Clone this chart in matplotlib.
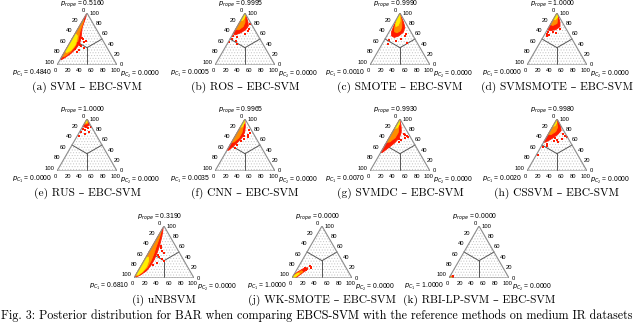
"""Ternary posterior plots (BAR, medium IR) for EBC-SVM vs reference methods."""
import numpy as np
import matplotlib.pyplot as plt
from matplotlib.patches import Polygon

plt.rcParams['hatch.linewidth'] = 0.4

# ---- data: probabilities printed at the corners ----
captions = ["(a) SVM – EBC-SVM", "(b) ROS – EBC-SVM", "(c) SMOTE – EBC-SVM",
            "(d) SVMSMOTE – EBC-SVM", "(e) RUS – EBC-SVM", "(f) CNN – EBC-SVM",
            "(g) SVMDC – EBC-SVM", "(h) CSSVM – EBC-SVM", "(i) uNBSVM",
            "(j) WK-SMOTE – EBC-SVM", "(k) RBI-LP-SVM – EBC-SVM"]
p_rope = [0.5160, 0.9995, 0.9990, 1.0000, 1.0000, 0.9965, 0.9930, 0.9980, 0.3190, 0.0000, 0.0000]
p_c1 = [0.4840, 0.0005, 0.0010, 0.0000, 0.0000, 0.0035, 0.0070, 0.0020, 0.6810, 1.0000, 1.0000]
p_c2 = [0.0000] * 11
tick_vals = [0, 20, 40, 60, 80, 100]

# ---- posterior sample clouds: (p_rope %, p_C2 %) ----
svm_red = [(98, 0), (12, 0), (10, 2), (14, 6), (22, 12), (32, 16), (42, 17), (52, 14), (62, 10), (72, 6), (82, 4), (92, 2)]
svm_orange = [(88, 0), (15, 0), (17, 5), (25, 10), (35, 12), (45, 12), (55, 9), (65, 6), (75, 4), (85, 2)]
svm_yellow = [(60, 1), (26, 1), (24, 4), (28, 9), (38, 11), (48, 9), (56, 6)]
svm_dots = [(50, 18), (45, 22), (39, 19), (33, 28), (47, 24), (25, 20), (42, 14), (30, 15), (52, 16), (36, 22), (28, 22)]

ros_red = [(100, 0), (60, 0), (58, 5), (62, 12), (68, 17), (75, 18), (82, 14), (90, 8), (96, 3)]
ros_orange = [(95, 0), (68, 0), (68, 6), (74, 10), (82, 9), (90, 5)]
ros_yellow = [(100, 0), (86, 0), (86, 3), (92, 4), (97, 2)]
ros_dots = [(56, 2), (50, 3), (47, 12), (60, 20), (65, 22), (70, 21), (78, 20), (54, 10), (45, 1), (40, 17)]

smote_red = [(100, 0), (88, 1), (76, 2), (64, 4), (56, 8), (53, 14), (56, 20), (63, 24), (72, 22), (82, 15), (90, 8), (96, 3)]
smote_orange = [(98, 0), (85, 2), (72, 5), (64, 9), (62, 14), (66, 18), (74, 16), (84, 11), (92, 5)]
smote_yellow = [(100, 0), (90, 1), (80, 3), (74, 6), (76, 9), (84, 8), (92, 4)]
smote_dots = [(40, 10), (42, 40), (46, 20), (50, 26), (48, 8), (55, 30), (60, 30)]

svmsmote_red = [(100, 0), (68, 0), (66, 6), (68, 14), (74, 18), (82, 14), (90, 8), (96, 3)]
svmsmote_orange = [(98, 0), (78, 0), (76, 5), (80, 10), (88, 7), (94, 3)]
svmsmote_yellow = [(100, 0), (88, 0), (87, 4), (92, 5), (97, 2)]
svmsmote_dots = [(60, 4), (55, 6), (58, 8), (63, 3), (64, 12), (62, 18), (70, 20)]

rus_red = [(100, 0), (86, 0), (84, 5), (88, 10), (94, 6)]
rus_orange = [(100, 0), (90, 1), (91, 5), (96, 4)]
rus_yellow = [(100, 0), (93, 0), (93, 3), (97, 2)]
rus_dots = [(84, 6), (80, 4), (78, 8), (76, 15), (84, 15), (68, 3), (75, 2), (72, 10), (82, 11)]

cnn_red = [(100, 0), (40, 0), (40, 3), (46, 6), (55, 10), (65, 13), (75, 12), (85, 8), (94, 3)]
cnn_orange = [(98, 0), (55, 0), (56, 4), (64, 8), (74, 8), (84, 5), (92, 2)]
cnn_yellow = [(100, 0), (84, 0), (85, 3), (92, 3), (97, 1)]
cnn_dots = [(62, 18), (66, 22), (70, 20), (73, 22), (58, 15), (50, 12), (45, 10), (68, 14), (78, 18)]

svmdc_red = [(100, 0), (35, 0), (36, 3), (44, 8), (54, 14), (64, 17), (74, 15), (84, 10), (93, 4)]
svmdc_orange = [(98, 0), (55, 0), (56, 5), (64, 10), (74, 10), (84, 6), (92, 2)]
svmdc_yellow = [(100, 0), (82, 0), (83, 4), (90, 4), (96, 1)]
svmdc_dots = [(60, 22), (64, 26), (66, 30), (70, 24), (56, 20), (62, 18), (68, 28), (72, 20)]

cssvm_red = [(100, 0), (55, 0), (56, 4), (62, 10), (70, 16), (78, 18), (86, 13), (93, 7), (98, 2)]
cssvm_orange = [(98, 0), (70, 0), (70, 5), (76, 10), (84, 9), (92, 4)]
cssvm_yellow = [(100, 0), (86, 0), (87, 3), (93, 3), (97, 1)]
cssvm_dots = [(55, 24), (52, 7), (68, 30), (30, 3), (60, 20), (62, 28), (48, 10), (64, 14),
              (58, 16), (72, 24), (46, 4), (66, 34)]

unb_red = [(97, 0), (3, 0), (2, 3), (6, 8), (14, 14), (24, 16), (36, 16), (50, 14), (64, 11), (78, 7), (90, 3)]
unb_orange = [(90, 0), (4, 0), (4, 4), (10, 8), (20, 12), (32, 12), (46, 10), (60, 7), (76, 4), (88, 1)]
unb_yellow = [(40, 0), (6, 0), (6, 4), (12, 8), (22, 10), (32, 8), (40, 4)]
unb_dots = [(52, 21), (32, 34), (40, 22), (45, 18), (28, 24), (58, 16), (36, 28), (25, 19), (48, 26), (62, 14)]

wk_red = [(0, 0), (0, 6), (6, 10), (12, 14), (17, 18), (20, 16), (18, 10), (12, 4), (6, 0)]
wk_orange = [(0, 0), (0, 4), (6, 8), (12, 12), (14, 9), (9, 4), (4, 0)]
wk_yellow = [(0, 0), (0, 3), (5, 6), (9, 8), (9, 5), (5, 2), (2, 0)]
wk_dots = [(22, 20), (24, 18), (19, 22), (16, 16), (20, 12)]

rbi_red = [(0, 0), (0, 5), (4, 4), (3, 0)]
rbi_orange = [(0, 0), (0, 4), (3, 3), (2, 0)]
rbi_yellow = [(0, 0), (0, 3), (2, 2), (2, 0)]
rbi_dots = [(3, 5), (2, 6)]

clouds = [(svm_red, svm_orange, svm_yellow, svm_dots),
          (ros_red, ros_orange, ros_yellow, ros_dots),
          (smote_red, smote_orange, smote_yellow, smote_dots),
          (svmsmote_red, svmsmote_orange, svmsmote_yellow, svmsmote_dots),
          (rus_red, rus_orange, rus_yellow, rus_dots),
          (cnn_red, cnn_orange, cnn_yellow, cnn_dots),
          (svmdc_red, svmdc_orange, svmdc_yellow, svmdc_dots),
          (cssvm_red, cssvm_orange, cssvm_yellow, cssvm_dots),
          (unb_red, unb_orange, unb_yellow, unb_dots),
          (wk_red, wk_orange, wk_yellow, wk_dots),
          (rbi_red, rbi_orange, rbi_yellow, rbi_dots)]

# ---- layout (pixels) ----
FW, FH = 640, 322
W = 60.0
H = W * np.sqrt(3) / 2
centers = [(87, 65), (245, 65), (400, 65), (557, 65),
           (87, 171), (245, 171), (400, 171), (557, 171),
           (164, 278), (322, 278), (479, 278)]
R3 = np.sqrt(3) / 2
SANS = "Liberation Sans"
SERIF = ["cmr10", "DejaVu Serif"]
TICK_FS = 4.2
P_FS = 4.9
CAP_FS = 8.2
FIG_FS = 8.7


def xy(rope, c2):
    rope = np.asarray(rope, float) / 100
    c2 = np.asarray(c2, float) / 100
    return c2 + rope / 2, rope * R3


def draw_panel(i):
    cx, base = centers[i]
    ax = fig.add_axes([(cx - W / 2) / FW, (FH - base) / FH, W / FW, H / FH])
    ax.set_xlim(0, 1)
    ax.set_ylim(0, R3)
    ax.axis("off")
    tri = [(0, 0), (1, 0), (0.5, R3)]
    ax.add_patch(Polygon(tri, closed=True, facecolor="white", edgecolor="#c4c4c4",
                         hatch="......", lw=0, zorder=1))
    ax.add_patch(Polygon(tri, closed=True, fill=False, edgecolor="#8c8c8c", lw=0.8, zorder=5))
    # region borders
    c = xy(100 / 3, 100 / 3)
    for r, c2 in [(50, 0), (50, 50), (0, 50)]:
        m = xy(r, c2)
        ax.plot([c[0], m[0]], [c[1], m[1]], color="#555555", lw=0.7, zorder=2)

    red, orange, yellow, dots = clouds[i]
    for pts, col in [(red, "#ff1a00"), (orange, "#ff8c00"), (yellow, "#ffee00")]:
        px, py = xy([p[0] for p in pts], [p[1] for p in pts])
        ax.add_patch(Polygon(np.column_stack([px, py]), closed=True, facecolor=col,
                             edgecolor=col, lw=0.6, zorder=3))
    dx, dy = xy([p[0] for p in dots], [p[1] for p in dots])
    ax.scatter(dx, dy, s=1.8, marker="s", color="#ff1a00", lw=0, zorder=4)

    kw = dict(textcoords="offset pixels", fontsize=TICK_FS, family=SANS, annotation_clip=False)
    for v in tick_vals:
        ax.annotate(str(v), xy(100 - v, 0), xytext=(-2.5, 3), ha="right", va="center", **kw)
        ax.annotate(str(v), xy(v, 100 - v), xytext=(3, 0), ha="left", va="center", **kw)
        ax.annotate(str(v), xy(0, v), xytext=(-1.5, -3), ha="center", va="top", **kw)

    kw["fontsize"] = P_FS
    ax.annotate(r"$p_{rope}$ = %.4f" % p_rope[i], xy(100, 0), xytext=(-4, 7),
                ha="center", va="baseline", **kw)
    ax.annotate(r"$p_{C_1}$ = %.4f" % p_c1[i], xy(0, 0), xytext=(-5, -3),
                ha="right", va="top", **kw)
    ax.annotate(r"$p_{C_2}$ = %.4f" % p_c2[i], xy(0, 100), xytext=(3, -3.5),
                ha="left", va="top", **kw)
    fig.text(cx / FW, 1 - (base + 22) / FH, captions[i], ha="center", va="center",
             fontsize=CAP_FS, family=SERIF)


fig = plt.figure(figsize=(6.4, 3.22), dpi=100)
for i in range(len(captions)):
    draw_panel(i)
fig.text(1 / FW, 1 - 316 / FH,
         "Fig. 3: Posterior distribution for BAR when comparing EBCS-SVM with the "
         "reference methods on medium IR datasets",
         ha="left", va="center", fontsize=FIG_FS, family=SERIF)
fig.savefig("out.png", dpi=100)
